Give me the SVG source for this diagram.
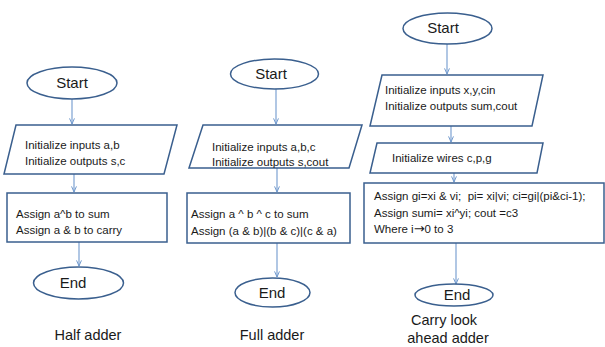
<svg xmlns="http://www.w3.org/2000/svg" width="605" height="347" viewBox="0 0 605 347">
  <defs>
    <marker id="arrow" viewBox="0 0 10 10" refX="9" refY="5" markerWidth="7" markerHeight="7" orient="auto" markerUnits="userSpaceOnUse">
      <path d="M1,1.5 L9,5 L1,8.5" fill="none" stroke="#6f98cc" stroke-width="1.4"/>
    </marker>
  </defs>
  <style>
    .shape { fill: #ffffff; stroke: #3a5f8e; stroke-width: 1.5; }
    .txt { font-family: "Liberation Sans", Arial, sans-serif; font-size: 11.5px; fill: #1a1a1a; }
    .sym { font-family: "DejaVu Sans", sans-serif; font-size: 13px; }
    .term { font-family: "Liberation Sans", Arial, sans-serif; font-size: 15px; fill: #1a1a1a; text-anchor: middle; }
    .title { font-family: "Liberation Sans", Arial, sans-serif; font-size: 14.5px; fill: #1a1a1a; text-anchor: middle; }
    .conn line { stroke: #7ca2d2; stroke-width: 1.2; marker-end: url(#arrow); }
  </style>
  <rect width="605" height="347" fill="#ffffff"/>

  <!-- connectors -->
  <g class="conn" id="connectors">
    <line x1="72" y1="99" x2="72" y2="124"/>
    <line x1="74" y1="174" x2="74" y2="192"/>
    <line x1="79" y1="242" x2="79" y2="266"/>
    <line x1="276" y1="89" x2="276" y2="124"/>
    <line x1="277" y1="168" x2="277" y2="192"/>
    <line x1="277" y1="243" x2="277" y2="277"/>
    <line x1="447" y1="44" x2="447" y2="74"/>
    <line x1="451" y1="126" x2="451" y2="142"/>
    <line x1="454" y1="173" x2="454" y2="182"/>
    <line x1="456" y1="243" x2="456" y2="284"/>
  </g>

  <!-- Half adder -->
  <g id="ha-start">
    <ellipse class="shape" cx="72" cy="83" rx="45" ry="16"/>
    <text class="term" x="72" y="88">Start</text>
  </g>
  <g id="ha-init">
    <polygon class="shape" points="16,125 177,125 164,174 4,174"/>
    <text class="txt" x="25" y="149">Initialize inputs a,b</text>
    <text class="txt" x="25" y="165">Initialize outputs s,c</text>
  </g>
  <g id="ha-assign">
    <rect class="shape" x="7" y="193" width="160" height="49"/>
    <text class="txt" x="16" y="218">Assign a^b to sum</text>
    <text class="txt" x="16" y="234">Assign a &amp; b to carry</text>
  </g>
  <g id="ha-end">
    <ellipse class="shape" cx="78.5" cy="283" rx="45" ry="16"/>
    <text class="term" x="73" y="288">End</text>
  </g>
  <text class="title" x="88" y="340">Half adder</text>

  <!-- Full adder -->
  <g id="fa-start">
    <ellipse class="shape" cx="274.5" cy="74" rx="44" ry="15"/>
    <text class="term" x="271" y="79">Start</text>
  </g>
  <g id="fa-init">
    <polygon class="shape" points="203,125 362,125 349,168 189,168"/>
    <text class="txt" x="212" y="151">Initialize inputs a,b,c</text>
    <text class="txt" x="212" y="166">Initialize outputs s,cout</text>
  </g>
  <g id="fa-assign">
    <rect class="shape" x="187" y="193" width="163" height="50"/>
    <text class="txt" x="191" y="218">Assign a ^ b ^ c to sum</text>
    <text class="txt" x="191" y="235">Assign (a &amp; b)|(b &amp; c)|(c &amp; a)</text>
  </g>
  <g id="fa-end">
    <ellipse class="shape" cx="272.5" cy="292.5" rx="37.5" ry="14.5"/>
    <text class="term" x="272" y="298">End</text>
  </g>
  <text class="title" x="272" y="340">Full adder</text>

  <!-- Carry look ahead adder -->
  <g id="cla-start">
    <ellipse class="shape" cx="447.5" cy="28.5" rx="44.5" ry="15.5"/>
    <text class="term" x="443" y="33">Start</text>
  </g>
  <g id="cla-init">
    <polygon class="shape" points="382,75 543,75 532,126 370,126"/>
    <text class="txt" x="385" y="94">Initialize inputs x,y,cin</text>
    <text class="txt" x="385" y="110">Initialize outputs sum,cout</text>
  </g>
  <g id="cla-wires">
    <polygon class="shape" points="377,143 543,143 537,173 370,173"/>
    <text class="txt" x="392" y="162">Initialize wires c,p,g</text>
  </g>
  <g id="cla-assign">
    <rect class="shape" x="364" y="183" width="240" height="60"/>
    <text class="txt" x="374" y="200" xml:space="preserve">Assign gi=xi &amp; vi;  pi= xi|vi; ci=gi|(pi&amp;ci-1);</text>
    <text class="txt" x="374" y="217">Assign sumi= xi^yi; cout =c3</text>
    <text class="txt" x="374" y="233">Where i<tspan class="sym">→</tspan>0 to 3</text>
  </g>
  <g id="cla-end">
    <ellipse class="shape" cx="454" cy="295" rx="39" ry="11"/>
    <text class="term" x="457" y="300">End</text>
  </g>
  <text class="title" x="444" y="325">Carry look</text>
  <text class="title" x="448" y="343">ahead adder</text>
</svg>
